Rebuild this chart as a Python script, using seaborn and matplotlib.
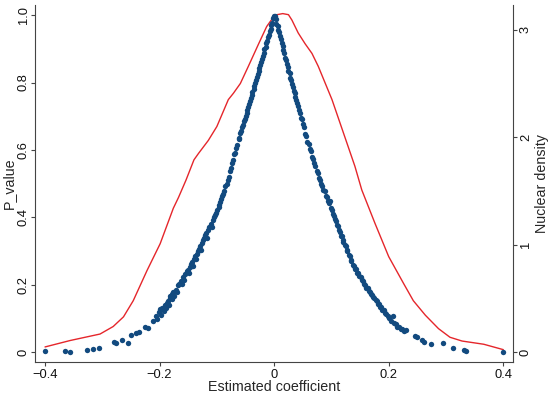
import numpy as np
import pandas as pd
import matplotlib
matplotlib.use("Agg")
import matplotlib.pyplot as plt
import seaborn as sns

## DATA ..............................................

coef = [
    # left tail
    -0.400, -0.365, -0.357, -0.327, -0.316, -0.305, -0.280, -0.276, -0.265, -0.256,
    -0.250, -0.241, -0.236, -0.226, -0.221, -0.212, -0.207, -0.204,
    # left band
    -0.201, -0.199, -0.197, -0.195, -0.193, -0.191, -0.189, -0.187, -0.186, -0.184,
    -0.182, -0.181, -0.179, -0.178, -0.176, -0.174, -0.172, -0.170, -0.168, -0.166,
    -0.163, -0.161, -0.159, -0.157, -0.155, -0.153, -0.151, -0.149, -0.147, -0.146,
    -0.144, -0.142, -0.140, -0.139, -0.137, -0.135, -0.133, -0.131, -0.130, -0.128,
    -0.126, -0.124, -0.122, -0.120, -0.119, -0.117, -0.115, -0.113, -0.111, -0.109,
    -0.107, -0.105, -0.103, -0.101, -0.099, -0.097, -0.096, -0.094, -0.092, -0.091,
    # left upper
    -0.089, -0.087, -0.085, -0.083, -0.081, -0.079, -0.077, -0.075, -0.073, -0.071,
    -0.070, -0.068, -0.066, -0.064, -0.062, -0.061, -0.059, -0.057, -0.056, -0.054,
    -0.053, -0.051, -0.050, -0.048, -0.047, -0.045, -0.044, -0.042, -0.041, -0.039,
    -0.038, -0.036, -0.035, -0.033, -0.032, -0.030, -0.029, -0.027, -0.026, -0.024,
    -0.023, -0.021, -0.020, -0.018, -0.017, -0.015, -0.014, -0.012, -0.011, -0.009,
    -0.008, -0.006, -0.005, -0.003, -0.002, -0.001,
    # right upper
    0.001, 0.003, 0.004, 0.006, 0.007, 0.009, 0.010, 0.012, 0.013, 0.015,
    0.016, 0.018, 0.019, 0.021, 0.022, 0.024, 0.025, 0.027, 0.028, 0.030,
    0.031, 0.033, 0.034, 0.036, 0.037, 0.039, 0.040, 0.042, 0.043, 0.045,
    0.047, 0.048, 0.050, 0.052, 0.054, 0.056, 0.058, 0.060, 0.062, 0.064,
    0.066, 0.068, 0.070, 0.072, 0.074, 0.076, 0.078, 0.080, 0.082, 0.084,
    0.086, 0.088, 0.090,
    # right band
    0.092, 0.094, 0.096, 0.097, 0.099, 0.101, 0.103, 0.104, 0.106, 0.108,
    0.110, 0.111, 0.113, 0.115, 0.116, 0.118, 0.120, 0.121, 0.123, 0.125,
    0.127, 0.128, 0.130, 0.132, 0.134, 0.135, 0.137, 0.139, 0.141, 0.143,
    0.145, 0.147, 0.149, 0.151, 0.153, 0.155, 0.157, 0.159, 0.161, 0.163,
    0.165, 0.167, 0.169, 0.171, 0.173, 0.175, 0.177, 0.179, 0.181, 0.183,
    0.185, 0.187, 0.189, 0.191, 0.193, 0.196, 0.198, 0.201, 0.204, 0.207,
    0.209, 0.212, 0.215, 0.218, 0.221, 0.224, 0.227, 0.231,
    # right tail
    0.246, 0.249, 0.258, 0.262, 0.273, 0.295, 0.313, 0.332, 0.335, 0.400,
]

p_value = [
    # left tail
    0.003, 0.004, 0.002, 0.008, 0.011, 0.012, 0.030, 0.027, 0.036, 0.028,
    0.050, 0.056, 0.060, 0.074, 0.073, 0.094, 0.108, 0.100,
    # left band
    0.118, 0.127, 0.110, 0.131, 0.121, 0.140, 0.130, 0.147, 0.153, 0.139,
    0.160, 0.167, 0.172, 0.158, 0.178, 0.168, 0.186, 0.178, 0.198, 0.203,
    0.212, 0.203, 0.224, 0.213, 0.232, 0.240, 0.245, 0.234, 0.254, 0.262,
    0.268, 0.257, 0.277, 0.285, 0.277, 0.292, 0.300, 0.307, 0.314, 0.304,
    0.324, 0.332, 0.339, 0.347, 0.354, 0.338, 0.362, 0.370, 0.379, 0.370,
    0.392, 0.400, 0.407, 0.414, 0.422, 0.430, 0.438, 0.447, 0.454, 0.462,
    # left upper
    0.470, 0.477, 0.492, 0.498, 0.510, 0.520, 0.537, 0.546, 0.562, 0.570,
    0.587, 0.590, 0.607, 0.616, 0.632, 0.634, 0.650, 0.656, 0.667, 0.674,
    0.685, 0.692, 0.702, 0.710, 0.718, 0.726, 0.737, 0.745, 0.754, 0.763,
    0.772, 0.780, 0.790, 0.798, 0.808, 0.816, 0.826, 0.834, 0.844, 0.852,
    0.862, 0.870, 0.880, 0.888, 0.898, 0.906, 0.916, 0.924, 0.934, 0.942,
    0.952, 0.960, 0.970, 0.978, 0.990, 0.996,
    # right upper
    0.998, 0.987, 0.973, 0.967, 0.956, 0.950, 0.938, 0.930, 0.918, 0.907,
    0.896, 0.887, 0.874, 0.866, 0.854, 0.847, 0.834, 0.827, 0.814, 0.807,
    0.795, 0.788, 0.776, 0.768, 0.756, 0.748, 0.738, 0.730, 0.718, 0.710,
    0.695, 0.692, 0.676, 0.668, 0.648, 0.642, 0.625, 0.617, 0.602, 0.596,
    0.580, 0.573, 0.560, 0.552, 0.538, 0.532, 0.518, 0.512, 0.498, 0.494,
    0.482, 0.477, 0.464,
    # right band
    0.460, 0.448, 0.442, 0.450, 0.428, 0.422, 0.410, 0.404, 0.396, 0.390,
    0.378, 0.374, 0.364, 0.357, 0.346, 0.344, 0.332, 0.327, 0.318, 0.314,
    0.303, 0.300, 0.288, 0.284, 0.274, 0.270, 0.260, 0.257, 0.248, 0.247,
    0.236, 0.234, 0.226, 0.222, 0.213, 0.212, 0.203, 0.200, 0.191, 0.190,
    0.182, 0.180, 0.173, 0.170, 0.163, 0.162, 0.154, 0.152, 0.144, 0.142,
    0.134, 0.134, 0.124, 0.124, 0.116, 0.114, 0.106, 0.102, 0.092, 0.106,
    0.086, 0.084, 0.076, 0.074, 0.068, 0.068, 0.062, 0.066,
    # right tail
    0.048, 0.044, 0.036, 0.031, 0.024, 0.027, 0.012, 0.007, 0.004, 0.001,
]

dens_x = [-0.400, -0.356, -0.330, -0.304, -0.281, -0.263, -0.246, -0.222, -0.199,
          -0.176, -0.167, -0.154, -0.140, -0.132, -0.115, -0.100, -0.080, -0.071,
          -0.059, -0.045, -0.027, -0.013, -0.001, 0.005, 0.015, 0.025, 0.031,
          0.042, 0.054, 0.066, 0.077, 0.101, 0.121, 0.141, 0.153, 0.176, 0.200,
          0.226, 0.243, 0.264, 0.287, 0.307, 0.328, 0.366, 0.400]
dens_y = [0.05, 0.11, 0.14, 0.17, 0.24, 0.33, 0.48, 0.76, 1.01,
          1.34, 1.44, 1.60, 1.79, 1.85, 1.97, 2.10, 2.35, 2.41,
          2.50, 2.66, 2.87, 3.03, 3.12, 3.14, 3.15, 3.14, 3.09,
          2.97, 2.87, 2.78, 2.66, 2.35, 2.04, 1.73, 1.51, 1.20, 0.89,
          0.64, 0.48, 0.345, 0.22, 0.14, 0.105, 0.075, 0.025]

x_ticks = [-0.4, -0.2, 0, 0.2, 0.4]
x_tick_labels = ["\u22120.4", "\u22120.2", "0", "0.2", "0.4"]
p_ticks = [0, 0.2, 0.4, 0.6, 0.8, 1.0]
p_tick_labels = ["0", "0.2", "0.4", "0.6", "0.8", "1.0"]
d_ticks = [0, 1, 2, 3]

## PLOT ........................................................................

sns.set_style("ticks")
plt.rcParams['font.family'] = ['Liberation Sans', 'DejaVu Sans']
fs_tick = 9.3
fs_lab = 10.3

pts = pd.DataFrame({"coef": coef, "p": p_value})
dens = pd.DataFrame({"x": dens_x, "d": dens_y})

fig = plt.figure(figsize=(5.5, 3.95), dpi=100)
ax = fig.add_axes([35 / 550, 1 - 362 / 395, (513 - 35) / 550, (362 - 5) / 395])

sns.scatterplot(data=pts, x="coef", y="p", ax=ax, color="#124a7f", s=15,
                linewidth=0, zorder=3)
ax.set_xlim(-0.4175, 0.417)
ax.set_ylim(-0.029, 1.03)

ax2 = ax.twinx()
sns.lineplot(data=dens, x="x", y="d", ax=ax2, color="#e5262b", linewidth=1.0,
             estimator=None, sort=False)
ax2.set_ylim(-0.09, 3.23)

ax.set_xticks(x_ticks)
ax.set_xticklabels(x_tick_labels)
ax.set_yticks(p_ticks)
ax.set_yticklabels(p_tick_labels, rotation=90, va="center")
ax2.set_yticks(d_ticks)
ax2.set_yticklabels([str(t) for t in d_ticks], rotation=90, va="center")

ax.set_xlabel("Estimated coefficient", fontsize=fs_lab, labelpad=-1)
ax.set_ylabel("P_value", fontsize=fs_lab)
ax.yaxis.set_label_coords(-0.039, 0.5)
ax2.set_ylabel("Nuclear density", fontsize=fs_lab, labelpad=2)

for a in (ax, ax2):
    a.tick_params(labelsize=fs_tick, length=3, width=0.8, color="#444444", pad=2,
                  labelcolor="#111111")
    for s in a.spines.values():
        s.set_color("#444444")
        s.set_linewidth(0.8)
    a.spines["top"].set_visible(False)
ax.tick_params(axis="y", pad=0.8)
ax.spines["right"].set_visible(False)
ax2.spines["left"].set_visible(False)
ax2.spines["bottom"].set_visible(False)
ax.set_zorder(ax2.get_zorder() + 1)
ax.patch.set_visible(False)

fig.savefig("out.png", dpi=100)
